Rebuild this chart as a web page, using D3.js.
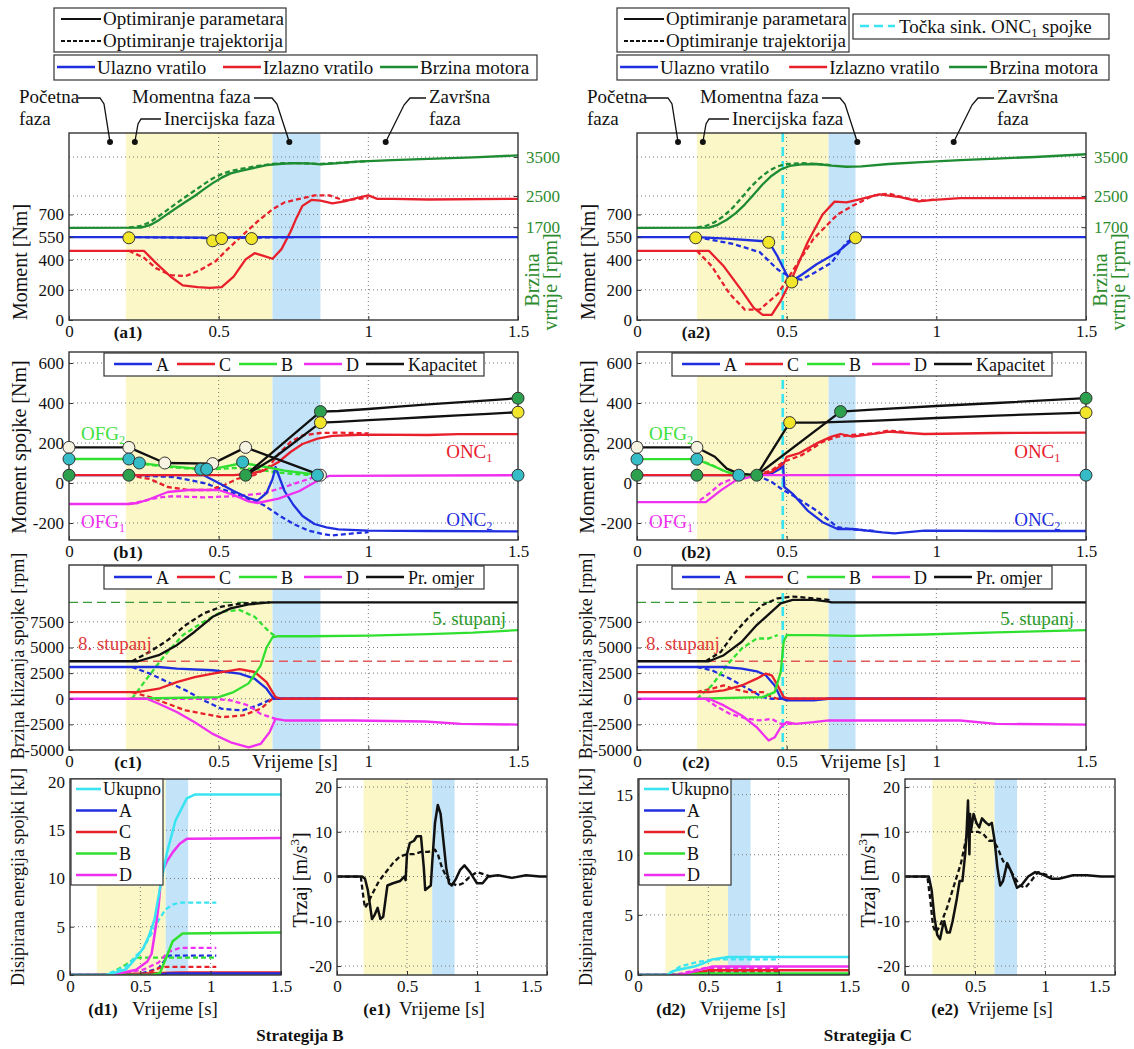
<!DOCTYPE html>
<html><head><meta charset="utf-8">
<script src="https://cdn.jsdelivr.net/npm/d3@7"></script>
<style>body{margin:0;background:#fff}svg{display:block}</style>
</head><body><div id="container"></div>
<script>
// ---------- data : [time s, value] ----------
const xTicks = [0, 0.5, 1, 1.5];
const momentTicks = [0, 200, 400, 550, 700];
const rpmTicks = [1700, 2500, 3500];
const clutchTicks = [-200, 0, 200, 400, 600];
const slipTicks = [-5000, -2500, 0, 2500, 5000, 7500];
const energyTicks1 = [0, 5, 10, 15, 20];
const energyTicks2 = [0, 5, 10, 15];
const jerkTicks = [-20, -10, 0, 10, 20];
const phaseDots = [0.137, 0.22, 0.736, 1.058];

// Strategija B  (a1)
const a1_eng = [[0,1680],[0.24,1690],[0.27,1750],[0.3,1880],[0.33,2040],[0.36,2200],[0.39,2350],[0.42,2500],[0.45,2670],[0.48,2830],[0.51,2970],[0.54,3080],[0.57,3140],[0.6,3190],[0.63,3240],[0.66,3290],[0.7,3320],[0.75,3340],[0.8,3335],[0.84,3310],[0.9,3340],[0.96,3380],[1.08,3420],[1.2,3450],[1.35,3490],[1.5,3540]];
const a1_eng_t = [[0.2,1690],[0.24,1730],[0.27,1830],[0.3,1980],[0.33,2150],[0.36,2320],[0.39,2480],[0.42,2640],[0.45,2800],[0.48,2950],[0.51,3060],[0.54,3140],[0.57,3190],[0.6,3230],[0.64,3280],[0.68,3320],[0.72,3340],[0.78,3340],[0.84,3320],[0.9,3350],[1.0,3390]];
const a1_in = [[0,550],[0.2,550],[0.45,546],[0.48,538],[0.52,548],[0.7,550],[1.5,550]];
const a1_in_t = [[0.2,550],[0.35,547],[0.47,543],[0.6,546],[0.76,550]];
const a1_out = [[0,459],[0.25,459],[0.29,379],[0.34,287],[0.38,230],[0.43,218],[0.47,213],[0.51,218],[0.55,287],[0.59,402],[0.62,443],[0.65,425],[0.68,406],[0.71,470],[0.74,585],[0.76,677],[0.78,757],[0.81,796],[0.84,792],[0.88,773],[0.92,787],[0.96,808],[1.0,826],[1.03,803],[1.08,803],[1.2,799],[1.5,803]];
const a1_out_t = [[0.2,459],[0.25,413],[0.29,344],[0.34,298],[0.39,291],[0.44,333],[0.49,390],[0.53,470],[0.58,562],[0.63,654],[0.68,734],[0.72,780],[0.77,803],[0.82,826],[0.87,826],[0.92,792],[0.96,803],[1.0,808]];
const a1_dots = [[0.2,545],[0.48,525],[0.51,540],[0.61,540]];

// (b1)
const b1_cap1 = [[0,178],[0.2,178],[0.32,100],[0.48,97],[0.59,178],[0.84,39]];
const b1_cap2 = [[0.59,39],[0.84,357],[0.9,360],[1.0,370],[1.1,382],[1.2,393],[1.3,403],[1.4,413],[1.5,424]];
const b1_cap3 = [[0.59,39],[0.68,120],[0.84,302],[0.9,306],[1.0,314],[1.1,322],[1.2,330],[1.3,338],[1.4,346],[1.5,354]];
const b1_B = [[0,120],[0.2,120],[0.235,100],[0.3,88],[0.38,78],[0.44,69],[0.5,76],[0.58,100],[0.64,85],[0.72,62],[0.84,39]];
const b1_B_t = [[0.2,120],[0.25,95],[0.32,82],[0.4,72],[0.48,68],[0.55,75],[0.62,70],[0.7,52],[0.78,42],[0.84,39]];
const b1_C = [[0,39],[0.55,39],[0.6,45],[0.65,62],[0.7,105],[0.74,155],[0.78,195],[0.83,222],[0.88,236],[0.95,240],[1.0,242],[1.2,240],[1.3,244],[1.5,244]];
const b1_C_t = [[0.2,39],[0.27,20],[0.33,-20],[0.4,-35],[0.47,-35],[0.52,-10],[0.56,20],[0.62,40],[0.67,85],[0.7,145],[0.74,205],[0.78,238],[0.84,250],[0.9,252],[1.0,248]];
const b1_D = [[0,-105],[0.2,-105],[0.23,-100],[0.27,-80],[0.33,-45],[0.4,-35],[0.5,-35],[0.55,-60],[0.6,-92],[0.63,-100],[0.7,-78],[0.77,-40],[0.84,20],[0.87,36],[1.5,39]];
const b1_D_t = [[0.2,-105],[0.25,-90],[0.3,-72],[0.35,-66],[0.45,-72],[0.55,-66],[0.65,-52],[0.72,-20],[0.78,10],[0.84,39]];
const b1_A = [[0,39],[0.45,39],[0.5,0],[0.55,-40],[0.6,-75],[0.63,-88],[0.66,-50],[0.68,20],[0.69,80],[0.7,40],[0.72,-40],[0.75,-110],[0.78,-165],[0.82,-205],[0.86,-222],[0.9,-232],[1.0,-238],[1.2,-240],[1.5,-242]];
const b1_A_t = [[0.2,39],[0.35,30],[0.45,0],[0.55,-50],[0.65,-110],[0.7,-160],[0.75,-205],[0.8,-238],[0.85,-256],[0.88,-262],[0.95,-252],[1.0,-246]];
const b1_mWhite = [[0,178],[0.2,178],[0.32,100],[0.48,97],[0.59,178],[0.84,39]];
const b1_mCyan = [[0,120],[0.2,120],[0.235,100],[0.44,69],[0.46,69],[0.58,105],[0.83,39],[1.5,39]];
const b1_mGreen = [[0,39],[0.2,39],[0.59,39],[0.84,357],[1.5,424]];
const b1_mYellow = [[0.84,302],[1.5,354]];

// (c1)
const c1_ratio = [[0,3660],[0.23,3660],[0.3,4250],[0.36,5230],[0.42,6540],[0.48,8000],[0.54,8820],[0.6,9200],[0.67,9400],[1.5,9400]];
const c1_ratio_t = [[0.21,3660],[0.27,4575],[0.33,5720],[0.39,7190],[0.45,8330],[0.51,8990],[0.58,9310],[0.67,9400]];
const c1_B = [[0.2,0],[0.5,160],[0.55,650],[0.6,1500],[0.64,3200],[0.66,5000],[0.68,6000],[0.7,6100],[0.8,6100],[1.0,6150],[1.2,6300],[1.35,6450],[1.5,6700]];
const c1_B_t = [[0.21,0],[0.26,1960],[0.32,4250],[0.38,6200],[0.45,7520],[0.51,8500],[0.57,8660],[0.62,8000],[0.67,6500],[0.69,6100]];
const c1_A = [[0,3100],[0.3,3100],[0.36,2940],[0.48,2780],[0.57,2450],[0.62,1960],[0.66,980],[0.68,160],[0.7,0],[1.5,0]];
const c1_A_t = [[0.21,3100],[0.27,2450],[0.33,1630],[0.39,820],[0.45,-160],[0.51,-980],[0.58,-1140],[0.63,-650],[0.68,0],[1.0,0]];
const c1_C = [[0,650],[0.23,650],[0.3,980],[0.36,1630],[0.42,2120],[0.48,2450],[0.57,2880],[0.62,2610],[0.66,1630],[0.69,160],[0.71,0],[1.5,0]];
const c1_C_t = [[0.21,650],[0.27,160],[0.33,-490],[0.39,-1140],[0.45,-1470],[0.51,-1800],[0.58,-1630],[0.64,-980],[0.68,0],[1.0,0]];
const c1_D = [[0,0],[0.26,0],[0.3,-490],[0.36,-1300],[0.42,-2290],[0.48,-3430],[0.54,-4250],[0.6,-4740],[0.64,-4410],[0.67,-3270],[0.69,-1960],[0.72,-2120],[0.95,-2120],[1.19,-2220],[1.31,-2450],[1.5,-2520]];
const c1_D_t = [[0.21,0],[0.48,0],[0.54,-160],[0.6,-650],[0.64,-1470],[0.69,-1960]];
const gear8 = 3660, gear5 = 9400;

// (d1)
const d1_tot = [[0,0],[0.25,0],[0.3,0.15],[0.4,0.6],[0.46,1.6],[0.52,2.75],[0.56,4],[0.6,5.7],[0.64,9],[0.69,12.7],[0.75,16],[0.83,18.3],[0.89,18.7],[1.5,18.7]];
const d1_tot_t = [[0,0],[0.25,0],[0.4,0.9],[0.52,2.75],[0.58,4.3],[0.63,5.7],[0.68,6.8],[0.73,7.3],[0.78,7.5],[1.04,7.5]];
const d1_D = [[0,0],[0.3,0],[0.47,0.55],[0.55,1.4],[0.58,2.2],[0.61,5],[0.63,7.2],[0.65,10.5],[0.69,11.8],[0.73,12.7],[0.78,13.6],[0.83,14.1],[1.5,14.2]];
const d1_D_t = [[0,0],[0.3,0],[0.52,0.55],[0.63,1.3],[0.7,2.4],[0.78,2.8],[1.04,2.8]];
const d1_B = [[0,0],[0.58,0],[0.64,0.2],[0.68,1.65],[0.73,3.5],[0.8,4.3],[1.5,4.4]];
const d1_B_t = [[0,0],[0.27,0],[0.4,1.1],[0.47,1.8],[1.04,1.8]];
const d1_A = [[0,0],[0.6,0],[0.7,0.15],[1.5,0.15]];
const d1_A_t = [[0,0],[0.47,0],[0.63,0.7],[0.7,2],[1.04,2]];
const d1_C = [[0,0],[0.3,0.05],[0.78,0.25],[1.5,0.25]];
const d1_C_t = [[0,0],[0.52,0],[0.63,0.7],[0.68,0.85],[1.04,0.85]];

// (e1)
const e1_jerk = [[0,0],[0.18,0],[0.2,-0.5],[0.22,-3],[0.25,-9.5],[0.27,-8.5],[0.29,-7],[0.31,-9.5],[0.33,-9],[0.36,-2],[0.4,-1.5],[0.45,-1],[0.48,0],[0.49,-0.8],[0.5,5],[0.52,7.5],[0.55,8],[0.57,9],[0.6,9],[0.62,2],[0.63,-3],[0.65,-2.5],[0.67,-2],[0.68,3],[0.7,12],[0.72,16],[0.74,14],[0.76,8],[0.78,2],[0.8,-1.5],[0.82,-2],[0.85,-0.5],[0.88,1.5],[0.91,2.5],[0.95,1],[0.98,-0.5],[1.0,-1.5],[1.04,-1.5],[1.08,0],[1.15,0.3],[1.25,-0.3],[1.35,0.3],[1.45,0],[1.5,0]];
const e1_jerk_t = [[0,0],[0.17,0],[0.19,-5],[0.2,-7],[0.22,-6],[0.25,-4],[0.3,-1],[0.35,1],[0.4,3],[0.45,4.5],[0.5,5],[0.55,5],[0.6,5.5],[0.65,5.5],[0.7,6],[0.72,5],[0.75,2],[0.78,0],[0.82,-1.5],[0.86,-2],[0.9,-1.5],[0.95,0],[1.0,1],[1.05,0.5],[1.1,0]];

// Strategija C  (a2)
const a2_eng = [[0,1680],[0.24,1690],[0.27,1760],[0.3,1890],[0.33,2060],[0.36,2280],[0.39,2540],[0.42,2800],[0.45,3020],[0.48,3180],[0.51,3270],[0.55,3310],[0.6,3320],[0.65,3280],[0.7,3250],[0.75,3260],[0.84,3320],[0.95,3370],[1.08,3420],[1.2,3460],[1.33,3500],[1.5,3570]];
const a2_eng_t = [[0.2,1690],[0.23,1730],[0.26,1830],[0.29,1990],[0.32,2200],[0.35,2460],[0.38,2730],[0.41,2960],[0.44,3140],[0.47,3260],[0.5,3320],[0.55,3340],[0.6,3320],[0.65,3290]];
const a2_in = [[0,550],[0.2,550],[0.3,540],[0.44,520],[0.47,420],[0.5,300],[0.515,255],[0.55,300],[0.6,370],[0.67,450],[0.73,550],[1.5,550]];
const a2_in_t = [[0.2,550],[0.32,505],[0.41,450],[0.47,335],[0.52,275],[0.55,268],[0.59,310],[0.65,380],[0.7,515],[0.73,550]];
const a2_out = [[0,459],[0.24,459],[0.29,356],[0.35,195],[0.39,80],[0.42,34],[0.45,34],[0.48,126],[0.52,287],[0.57,516],[0.62,700],[0.66,785],[0.7,780],[0.75,803],[0.81,833],[0.88,815],[0.94,787],[0.98,795],[1.08,808],[1.5,808]];
const a2_out_t = [[0.2,459],[0.25,356],[0.31,172],[0.36,69],[0.41,69],[0.47,172],[0.53,356],[0.59,539],[0.67,700],[0.72,757],[0.79,826],[0.84,838],[0.91,803],[0.96,792],[1.0,800]];
const a2_dots = [[0.196,545],[0.44,515],[0.517,252],[0.73,545]];
const syncT = 0.487;

// (b2)
const b2_cap1 = [[0,178],[0.2,178],[0.26,131],[0.3,72],[0.34,47],[0.4,39]];
const b2_cap2 = [[0.4,39],[0.51,302],[0.6,302],[0.8,312],[1.0,325],[1.2,337],[1.5,352]];
const b2_cap3 = [[0.4,39],[0.68,357],[0.8,368],[1.0,385],[1.2,400],[1.5,424]];
const b2_B = [[0,119],[0.2,119],[0.26,81],[0.3,55],[0.34,39],[0.4,39]];
const b2_B_t = [[0.2,119],[0.25,90],[0.29,60],[0.33,42],[0.38,39]];
const b2_D = [[0,-96],[0.23,-96],[0.28,-37],[0.33,13],[0.38,30],[0.4,39],[1.5,39]];
const b2_D_t = [[0.21,-87],[0.24,-54],[0.28,-3],[0.32,22],[0.37,34],[0.4,39]];
const b2_C = [[0,39],[0.4,39],[0.45,55],[0.49,97],[0.5,131],[0.54,148],[0.6,198],[0.65,232],[0.68,245],[0.72,232],[0.82,252],[0.84,257],[0.96,245],[1.2,250],[1.5,252]];
const b2_C_t = [[0.4,39],[0.45,64],[0.49,106],[0.55,139],[0.62,206],[0.67,232],[0.72,240],[0.8,250],[0.84,262],[0.9,255]];
const b2_A = [[0,39],[0.4,39],[0.45,47],[0.48,72],[0.488,100],[0.492,-20],[0.52,-54],[0.57,-138],[0.62,-196],[0.67,-230],[0.72,-230],[0.82,-247],[0.86,-252],[0.96,-238],[1.2,-240],[1.5,-240]];
const b2_A_t = [[0.4,39],[0.45,5],[0.49,-37],[0.52,-62],[0.6,-138],[0.67,-221],[0.72,-232],[0.8,-240]];
const b2_mWhite = [[0,178],[0.2,178]];
const b2_mCyan = [[0,119],[0.2,119],[0.34,39],[1.5,39]];
const b2_mGreen = [[0,39],[0.2,39],[0.4,39],[0.68,357],[1.5,424]];
const b2_mYellow = [[0.51,302],[1.5,352]];

// (c2)
const c2_ratio = [[0,3660],[0.24,3660],[0.29,4250],[0.35,5560],[0.4,7190],[0.45,8500],[0.48,9310],[0.52,9640],[0.59,9640],[0.64,9480],[0.65,9400],[1.5,9400]];
const c2_ratio_t = [[0.23,3660],[0.28,4575],[0.32,6210],[0.37,7840],[0.42,9150],[0.47,9800],[0.52,9970],[0.59,9800],[0.64,9640],[0.65,9400]];
const c2_B = [[0.2,0],[0.42,160],[0.46,650],[0.48,2610],[0.49,5560],[0.5,6210],[0.59,6210],[0.72,6140],[0.96,6270],[1.2,6470],[1.5,6700]];
const c2_B_t = [[0.2,0],[0.25,1300],[0.3,3270],[0.35,4900],[0.4,5880],[0.44,5880],[0.47,6210]];
const c2_A = [[0,3100],[0.29,3100],[0.35,2940],[0.4,2680],[0.43,2290],[0.46,1300],[0.48,65],[0.5,-160],[0.59,-160],[0.64,0],[1.5,0]];
const c2_A_t = [[0.2,3100],[0.25,2780],[0.31,1960],[0.37,980],[0.42,160],[0.45,0],[1.0,0]];
const c2_C = [[0,650],[0.24,650],[0.29,820],[0.35,1300],[0.4,1960],[0.43,2450],[0.45,2290],[0.47,1300],[0.49,160],[0.51,0],[1.5,0]];
const c2_C_t = [[0.2,650],[0.25,980],[0.29,1300],[0.32,980],[0.37,650],[0.42,650],[0.45,160],[0.47,0],[1.0,0]];
const c2_D = [[0,0],[0.24,0],[0.29,-650],[0.35,-1630],[0.4,-2780],[0.44,-4080],[0.46,-3760],[0.48,-2780],[0.5,-2290],[0.53,-2450],[0.59,-2290],[0.64,-2120],[1.08,-2120],[1.2,-2450],[1.5,-2520]];
const c2_D_t = [[0.23,0],[0.26,-650],[0.31,-1470],[0.37,-1960],[0.41,-2120],[0.45,-1960],[0.48,-2450],[0.52,-2450]];

// (d2)
const d2_tot = [[0,0],[0.2,0],[0.27,0.4],[0.4,0.7],[0.47,1.0],[0.53,1.3],[0.64,1.5],[1.5,1.5]];
const d2_tot_t = [[0,0],[0.2,0],[0.3,0.7],[0.43,1.1],[0.56,1.3],[1.0,1.3]];
const d2_D = [[0,0],[0.3,0],[0.48,0.55],[0.53,0.7],[1.5,0.7]];
const d2_D_t = [[0,0],[0.26,0],[0.48,0.6],[1.0,0.6]];
const d2_C = [[0,0],[0.35,0],[0.5,0.4],[1.5,0.4]];
const d2_C_t = [[0,0],[0.35,0],[0.5,0.3],[1.0,0.3]];
const d2_B = [[0,0],[0.3,0],[0.45,0.12],[1.5,0.12]];
const d2_B_t = [[0,0],[0.3,0],[0.45,0.1],[1.0,0.1]];
const d2_A = [[0,0],[0.3,0],[0.45,0.05],[1.5,0.05]];
const d2_A_t = [[0,0],[0.3,0],[0.45,0.15],[1.0,0.15]];

// (e2)
const e2_jerk = [[0,0],[0.17,0],[0.19,-3],[0.21,-9],[0.23,-13],[0.25,-14],[0.27,-11],[0.28,-10],[0.3,-12.5],[0.32,-12.5],[0.34,-10],[0.37,-5],[0.39,-1],[0.41,-1],[0.43,5],[0.44,10],[0.45,17],[0.46,5],[0.465,14],[0.47,10],[0.49,14],[0.51,12],[0.53,11],[0.55,13],[0.58,12],[0.6,11.5],[0.62,12],[0.64,8],[0.66,2],[0.68,-2],[0.7,-1],[0.73,3],[0.76,1],[0.8,-2.5],[0.83,-2],[0.88,0],[0.93,1],[0.98,0.5],[1.05,-0.5],[1.1,-0.5],[1.2,0.3],[1.3,0.3],[1.4,0],[1.5,0]];
const e2_jerk_t = [[0,0],[0.16,0],[0.18,-5],[0.2,-11],[0.22,-12.5],[0.25,-11],[0.3,-7],[0.35,-2],[0.4,3],[0.44,9],[0.47,10],[0.52,10],[0.56,9.5],[0.6,8],[0.63,8],[0.66,6.5],[0.7,3.5],[0.74,2],[0.78,0],[0.82,-2],[0.86,-2.5],[0.9,-1],[0.95,1],[1.0,0.5],[1.05,0]];

// ---------- drawing ----------
const FONT = '"Liberation Serif","Times New Roman",serif';
const C = {
  blue: '#1f2fe0', red: '#e8202c', eng: '#1e8c32', green: '#30e030', mag: '#f030f0',
  cyan: '#38e4f2', black: '#111', yel: '#fbf7c6', sky: '#c3e4f8', axisGreen: '#2e8b2e',
  mYellow: '#f2e62a', mWhite: '#f7f3e3', mCyan: '#36bcc6', mGreen: '#2ca04c'
};
const TICK = 17, LW = 2.3;
const svg = d3.select('#container').append('svg').attr('width', 1134).attr('height', 1049)
  .style('font-family', FONT);
let clipN = 0;

function txt(x, y, s, opt = {}) {
  const t = svg.append('text').attr('x', x).attr('y', y).text(s)
    .attr('font-size', opt.size || 19).attr('fill', opt.fill || '#111')
    .attr('text-anchor', opt.anchor || 'start');
  if (opt.bold) t.attr('font-weight', 'bold');
  if (opt.rot) t.attr('transform', `rotate(-90,${x},${y})`);
  return t;
}
function subTxt(x, y, base, sub, after, opt = {}) {
  const t = txt(x, y, '', opt);
  t.append('tspan').text(base);
  t.append('tspan').text(sub).attr('font-size', (opt.size || 19) * 0.65).attr('dy', 4);
  if (after) t.append('tspan').text(after).attr('dy', -4);
  return t;
}

function panel(o) {
  const x = d3.scaleLinear().domain(o.xd).range([o.x0, o.x1]);
  const y = d3.scaleLinear().domain(o.yd).range([o.y1, o.y0]);
  const id = 'clip' + (clipN++);
  svg.append('clipPath').attr('id', id).append('rect')
    .attr('x', o.x0).attr('y', o.y0).attr('width', o.x1 - o.x0).attr('height', o.y1 - o.y0);
  const g = svg.append('g').attr('clip-path', `url(#${id})`);
  g.selectAll('rect.shade').data(o.shade).enter().append('rect')
    .attr('x', d => x(d[0])).attr('width', d => x(d[1]) - x(d[0]))
    .attr('y', o.y0).attr('height', o.y1 - o.y0).attr('fill', d => d[2]);
  g.selectAll('line.gx').data(o.xGrid).enter().append('line')
    .attr('x1', d => x(d)).attr('x2', d => x(d)).attr('y1', o.y0).attr('y2', o.y1)
    .attr('stroke', '#777').attr('stroke-dasharray', '1,3');
  g.selectAll('line.gy').data(o.yGrid).enter().append('line')
    .attr('y1', d => y(d)).attr('y2', d => y(d)).attr('x1', o.x0).attr('x2', o.x1)
    .attr('stroke', '#777').attr('stroke-dasharray', '1,3');
  return { x, y, g, o };
}

function series(P, data, color, dashed, yScale, width) {
  const ys = yScale || P.y;
  P.g.append('path').datum(data)
    .attr('d', d3.line().x(d => P.x(d[0])).y(d => ys(d[1])))
    .attr('fill', 'none').attr('stroke', color).attr('stroke-width', width || LW)
    .attr('stroke-linejoin', 'round')
    .attr('stroke-dasharray', dashed ? '5,3' : null);
}
function hline(P, v, color, t0, t1) {
  P.g.append('line').attr('x1', P.x(t0)).attr('x2', P.x(t1)).attr('y1', P.y(v)).attr('y2', P.y(v))
    .attr('stroke', color).attr('stroke-width', 1.3).attr('stroke-dasharray', '9,5');
}
function vsync(P) {
  P.g.append('line').attr('x1', P.x(syncT)).attr('x2', P.x(syncT)).attr('y1', P.o.y0).attr('y2', P.o.y1)
    .attr('stroke', C.cyan).attr('stroke-width', 2.6).attr('stroke-dasharray', '9,5');
}
function markers(P, data, fill, yScale, r) {
  const ys = yScale || P.y;
  svg.append('g').selectAll('circle').data(data).enter().append('circle')
    .attr('cx', d => P.x(d[0])).attr('cy', d => ys(d[1])).attr('r', r || 6)
    .attr('fill', fill).attr('stroke', '#333').attr('stroke-width', 1);
}
function styleAxis(g, color) {
  g.select('.domain').remove();
  g.selectAll('text').attr('font-family', FONT).attr('font-size', TICK).attr('fill', color || '#111');
  g.selectAll('line').attr('stroke', '#333');
}
function frame(P, yTicks, opts = {}) {
  const o = P.o;
  svg.append('rect').attr('x', o.x0).attr('y', o.y0).attr('width', o.x1 - o.x0).attr('height', o.y1 - o.y0)
    .attr('fill', 'none').attr('stroke', '#333').attr('stroke-width', 1.4);
  const gx = svg.append('g').attr('transform', `translate(0,${o.y1})`)
    .call(d3.axisBottom(P.x).tickValues(xTicks).tickFormat(d => String(d))
      .tickSizeInner(-4).tickSizeOuter(0).tickPadding(5));
  styleAxis(gx);
  if (opts.shiftLast) gx.selectAll('.tick:last-of-type text').attr('dx', -16);
  const gy = svg.append('g').attr('transform', `translate(${o.x0},0)`)
    .call(d3.axisLeft(P.y).tickValues(yTicks).tickFormat(d => String(d))
      .tickSizeInner(-4).tickSizeOuter(0).tickPadding(5));
  styleAxis(gy);
}
function tag(x, y, s) { txt(x, y, s, { bold: true, anchor: 'middle', size: 17 }); }

function innerLegend(P, last) {
  const x0 = P.o.x0, y0 = P.o.y0;
  svg.append('rect').attr('x', x0 + 35).attr('y', y0 + 1).attr('width', 380).attr('height', 23)
    .attr('fill', '#fff').attr('stroke', '#333').attr('stroke-width', 1.2);
  const items = [['A', C.blue, 45], ['C', C.red, 108], ['B', C.green, 170], ['D', C.mag, 235], [last, C.black, 297]];
  items.forEach(([s, c, dx]) => {
    svg.append('line').attr('x1', x0 + dx).attr('x2', x0 + dx + 38).attr('y1', y0 + 12).attr('y2', y0 + 12)
      .attr('stroke', c).attr('stroke-width', 2.4);
    txt(x0 + dx + 42, y0 + 18.5, s, { size: 18 });
  });
}
function energyLegend(P) {
  const x0 = P.o.x0, y0 = P.o.y0;
  svg.append('rect').attr('x', x0 + 1).attr('y', y0).attr('width', 92).attr('height', 106)
    .attr('fill', '#fff').attr('stroke', '#333').attr('stroke-width', 1.2);
  const items = [['Ukupno', C.cyan], ['A', C.blue], ['C', C.red], ['B', C.green], ['D', C.mag]];
  items.forEach(([s, c], i) => {
    const yy = y0 + 10 + i * 21.5;
    const len = i === 0 ? 25 : 41;
    svg.append('line').attr('x1', x0 + 6).attr('x2', x0 + 6 + len).attr('y1', yy).attr('y2', yy)
      .attr('stroke', c).attr('stroke-width', 2.6);
    txt(x0 + 8 + len, yy + 6, s, { size: 18 });
  });
}

const TOP = 133, AB = 320, BT = 352, BB = 540, CT = 565, CB = 750, DT = 779, DB = 975;

function column(cx, dx, S) {
  const x0 = cx, x1 = cx + 449;
  const lx = S.legendDx;
  // top legends
  svg.append('rect').attr('x', 54 + lx).attr('y', 8).attr('width', 232).attr('height', 44)
    .attr('fill', '#fff').attr('stroke', '#333').attr('stroke-width', 1.2);
  [[19, null], [41, '4,2']].forEach(([yy, da], i) => {
    svg.append('line').attr('x1', 61 + lx).attr('x2', 101 + lx).attr('y1', yy).attr('y2', yy)
      .attr('stroke', '#111').attr('stroke-width', 2).attr('stroke-dasharray', da);
    txt(103 + lx, yy + 6, i === 0 ? 'Optimiranje parametara' : 'Optimiranje trajektorija');
  });
  svg.append('rect').attr('x', 54 + lx).attr('y', 55).attr('width', S.colorLegendW).attr('height', 25)
    .attr('fill', '#fff').attr('stroke', '#333').attr('stroke-width', 1.2);
  [['Ulazno vratilo', C.blue, 3], ['Izlazno vratilo', C.red, 169], ['Brzina motora', C.eng, 326]].forEach(([s, c, off]) => {
    const ox = off * S.colorLegendW / 483;
    svg.append('line').attr('x1', 54 + lx + ox).attr('x2', 54 + lx + ox + 38).attr('y1', 67).attr('y2', 67)
      .attr('stroke', c).attr('stroke-width', 2.4);
    txt(54 + lx + ox + 40, 74, s);
  });
  // phase annotations
  txt(19 + dx, 103, 'Početna'); txt(19 + dx, 125, 'faza');
  txt(132 + dx, 103, 'Momentna faza');
  txt(164 + dx, 125, 'Inercijska faza');
  txt(429 + dx, 103, 'Završna'); txt(429 + dx, 125, 'faza');

  // (a)
  const A = panel({ x0, x1, y0: TOP, y1: AB, xd: [0, 1.5], yd: [0, 1240], xGrid: [0.5, 1],
    yGrid: [200, 400, 550, 700], shade: S.shadeA });
  const y2 = d3.scaleLinear().domain([-680, 4115]).range([AB, TOP]);
  A.g.selectAll('line.g2').data(rpmTicks).enter().append('line')
    .attr('x1', x0).attr('x2', x1).attr('y1', d => y2(d)).attr('y2', d => y2(d))
    .attr('stroke', '#777').attr('stroke-dasharray', '1,3');
  if (S.sync) vsync(A);
  series(A, S.eng_t, C.eng, true, y2); series(A, S.eng, C.eng, false, y2);
  series(A, S.out_t, C.red, true); series(A, S.out, C.red, false);
  series(A, S.in_t, C.blue, true); series(A, S.in, C.blue, false);
  frame(A, momentTicks);
  const gr = svg.append('g').attr('transform', `translate(${x1},0)`)
    .call(d3.axisRight(y2).tickValues(rpmTicks).tickFormat(d => String(d))
      .tickSizeInner(-4).tickSizeOuter(0).tickPadding(8));
  styleAxis(gr, C.axisGreen);
  markers(A, S.dots, C.mYellow);
  svg.append('g').selectAll('circle').data(phaseDots).enter().append('circle')
    .attr('cx', d => A.x(d)).attr('cy', 142).attr('r', 3).attr('fill', '#111');
  const leaders = [
    [[78, 98], [100, 98], [104, 104], [A.x(phaseDots[0]) - dx, 142]],
    [[161, 119], [141, 119], [138, 124], [A.x(phaseDots[1]) - dx, 142]],
    [[254, 98], [272, 98], [277, 104], [A.x(phaseDots[2]) - dx, 142]],
    [[426, 98], [410, 98], [404, 105], [A.x(phaseDots[3]) - dx, 142]]
  ];
  leaders.forEach(pts => svg.append('path').attr('d', d3.line()(pts.map(p => [p[0] + dx, p[1]])))
    .attr('fill', 'none').attr('stroke', '#111').attr('stroke-width', 1.3));
  txt(27 + dx, 262, 'Moment [Nm]', { rot: true, anchor: 'middle', size: 20 });
  txt(x1 + 21, 280, 'Brzina', { rot: true, anchor: 'middle', size: 20, fill: C.axisGreen });
  txt(x1 + 39, 282, 'vrtnje [rpm]', { rot: true, anchor: 'middle', size: 20, fill: C.axisGreen });
  tag(x0 + 59, AB + 18, S.n('a'));

  // (b)
  const B = panel({ x0, x1, y0: BT, y1: BB, xd: [0, 1.5], yd: [-285, 655], xGrid: [0.5, 1],
    yGrid: [-200, 0, 200, 400, 600], shade: S.shadeA });
  if (S.sync) vsync(B);
  series(B, S.bA_t, C.blue, true); series(B, S.bC_t, C.red, true);
  series(B, S.bB_t, C.green, true); series(B, S.bD_t, C.mag, true);
  series(B, S.bA, C.blue); series(B, S.bC, C.red); series(B, S.bB, C.green); series(B, S.bD, C.mag);
  S.caps.forEach(c => series(B, c, C.black));
  frame(B, clutchTicks);
  markers(B, S.mWhite, C.mWhite); markers(B, S.mCyan, C.mCyan);
  markers(B, S.mGreen, C.mGreen); markers(B, S.mYellow, C.mYellow);
  innerLegend(B, 'Kapacitet');
  subTxt(B.x(0.04), B.y(215), 'OFG', '2', null, { fill: '#3ee03e' });
  subTxt(B.x(1.26), B.y(125), 'ONC', '1', null, { fill: C.red });
  subTxt(B.x(0.04), B.y(-225), 'OFG', '1', null, { fill: C.mag });
  subTxt(B.x(1.26), B.y(-215), 'ONC', '2', null, { fill: C.blue });
  txt(26 + dx, 447, 'Moment spojke [Nm]', { rot: true, anchor: 'middle', size: 20 });
  tag(x0 + 59, BB + 18, S.n('b'));

  // (c)
  const Cp = panel({ x0, x1, y0: CT, y1: CB, xd: [0, 1.5], yd: [-5000, 13050], xGrid: [0.5, 1],
    yGrid: [-2500, 0, 2500, 5000, 7500], shade: S.shadeA });
  hline(Cp, gear8, '#e05a5a', 0, 1.5);
  hline(Cp, gear5, '#3a9a3a', 0, S.g5end);
  if (S.sync) vsync(Cp);
  series(Cp, S.cA_t, C.blue, true); series(Cp, S.cC_t, C.red, true);
  series(Cp, S.cB_t, C.green, true); series(Cp, S.cD_t, C.mag, true);
  series(Cp, S.cA, C.blue); series(Cp, S.cC, C.red); series(Cp, S.cB, C.green); series(Cp, S.cD, C.mag);
  series(Cp, S.ratio_t, C.black, true); series(Cp, S.ratio, C.black);
  frame(Cp, slipTicks);
  innerLegend(Cp, 'Pr. omjer');
  txt(Cp.x(0.03), Cp.y(4750), '8. stupanj', { fill: '#e03a3a' });
  txt(Cp.x(1.46), Cp.y(7200), '5. stupanj', { fill: '#2b9a2b', anchor: 'end' });
  txt(24 + dx, 656, 'Brzina klizanja spojke [rpm]', { rot: true, anchor: 'middle', size: 18 });
  tag(x0 + 59, CB + 18, S.n('c'));
  txt(x0 + 226, CB + 18, 'Vrijeme [s]', { anchor: 'middle' });

  // (d)
  const D = panel({ x0: x0 + 1, x1: x0 + 212, y0: DT, y1: DB, xd: [0, 1.5], yd: S.dDomain, xGrid: [0.5, 1],
    yGrid: [5, 10, 15], shade: S.shadeDE });
  const dl = S.d;
  [['A_t', C.blue], ['C_t', C.red], ['B_t', C.green], ['D_t', C.mag], ['tot_t', C.cyan]].forEach(([k, c]) => series(D, dl[k], c, true, null, 2.3));
  [['C', C.red], ['A', C.blue], ['B', C.green], ['D', C.mag], ['tot', C.cyan]].forEach(([k, c]) => series(D, dl[k], c, false, null, 2.5));
  frame(D, S.dTicks);
  energyLegend(D);
  txt(24 + dx, 877, 'Disipirana energija spojki [kJ]', { rot: true, anchor: 'middle', size: 18 });
  tag(x0 + 34, DB + 40, S.n('d'));
  txt(x0 + 106, DB + 40, 'Vrijeme [s]', { anchor: 'middle' });

  // (e)
  const E = panel({ x0: x0 + 268, x1: x0 + 478, y0: DT, y1: DB, xd: [0, 1.5], yd: [-22, 21.8], xGrid: [0.5, 1],
    yGrid: [-20, -10, 0, 10, 20], shade: S.shadeDE });
  series(E, S.jerk_t, C.black, true, null, 2.3);
  series(E, S.jerk, C.black, false, null, 2.5);
  frame(E, jerkTicks, { shiftLast: true });
  const tz = txt(x0 + 238, 880, 'Trzaj [m/s', { rot: true, anchor: 'middle', size: 20 });
  tz.append('tspan').text('3').attr('font-size', 13).attr('dy', -8);
  tz.append('tspan').text(']').attr('dy', 8);
  tag(x0 + 308, DB + 40, S.n('e'));
  txt(x0 + 373, DB + 40, 'Vrijeme [s]', { anchor: 'middle' });
}

column(69, 0, {
  n: p => `(${p}1)`, legendDx: 0, colorLegendW: 483,
  shadeA: [[0.19, 0.68, C.yel], [0.68, 0.84, C.sky]],
  shadeDE: [[0.19, 0.68, C.yel], [0.68, 0.84, C.sky]],
  eng: a1_eng, eng_t: a1_eng_t, in: a1_in, in_t: a1_in_t, out: a1_out, out_t: a1_out_t, dots: a1_dots,
  caps: [b1_cap1, b1_cap2, b1_cap3],
  bA: b1_A, bA_t: b1_A_t, bB: b1_B, bB_t: b1_B_t, bC: b1_C, bC_t: b1_C_t, bD: b1_D, bD_t: b1_D_t,
  mWhite: b1_mWhite, mCyan: b1_mCyan, mGreen: b1_mGreen, mYellow: b1_mYellow,
  cA: c1_A, cA_t: c1_A_t, cB: c1_B, cB_t: c1_B_t, cC: c1_C, cC_t: c1_C_t, cD: c1_D, cD_t: c1_D_t,
  ratio: c1_ratio, ratio_t: c1_ratio_t, g5end: 0.67,
  d: { tot: d1_tot, tot_t: d1_tot_t, A: d1_A, A_t: d1_A_t, B: d1_B, B_t: d1_B_t, C: d1_C, C_t: d1_C_t, D: d1_D, D_t: d1_D_t },
  dDomain: [0, 20.3], dTicks: energyTicks1,
  jerk: e1_jerk, jerk_t: e1_jerk_t
});

column(637, 568, {
  n: p => `(${p}2)`, sync: true, legendDx: 563, colorLegendW: 492,
  shadeA: [[0.2, 0.64, C.yel], [0.64, 0.73, C.sky]],
  shadeDE: [[0.195, 0.64, C.yel], [0.64, 0.8, C.sky]],
  eng: a2_eng, eng_t: a2_eng_t, in: a2_in, in_t: a2_in_t, out: a2_out, out_t: a2_out_t, dots: a2_dots,
  caps: [b2_cap1, b2_cap2, b2_cap3],
  bA: b2_A, bA_t: b2_A_t, bB: b2_B, bB_t: b2_B_t, bC: b2_C, bC_t: b2_C_t, bD: b2_D, bD_t: b2_D_t,
  mWhite: b2_mWhite, mCyan: b2_mCyan, mGreen: b2_mGreen, mYellow: b2_mYellow,
  cA: c2_A, cA_t: c2_A_t, cB: c2_B, cB_t: c2_B_t, cC: c2_C, cC_t: c2_C_t, cD: c2_D, cD_t: c2_D_t,
  ratio: c2_ratio, ratio_t: c2_ratio_t, g5end: 0.48,
  d: { tot: d2_tot, tot_t: d2_tot_t, A: d2_A, A_t: d2_A_t, B: d2_B, B_t: d2_B_t, C: d2_C, C_t: d2_C_t, D: d2_D, D_t: d2_D_t },
  dDomain: [0, 16.3], dTicks: energyTicks2,
  jerk: e2_jerk, jerk_t: e2_jerk_t
});

// sync legend (right column only)
svg.append('rect').attr('x', 853).attr('y', 14).attr('width', 256).attr('height', 25)
  .attr('fill', '#fff').attr('stroke', '#333').attr('stroke-width', 1.2);
svg.append('line').attr('x1', 860).attr('x2', 895).attr('y1', 26).attr('y2', 26)
  .attr('stroke', C.cyan).attr('stroke-width', 2.4).attr('stroke-dasharray', '9,5');
subTxt(899, 33, 'Točka sink. ONC', '1', ' spojke');

txt(300, 1041, 'Strategija B', { bold: true, anchor: 'middle', size: 17 });
txt(868, 1041, 'Strategija C', { bold: true, anchor: 'middle', size: 17 });
</script>
</body></html>
